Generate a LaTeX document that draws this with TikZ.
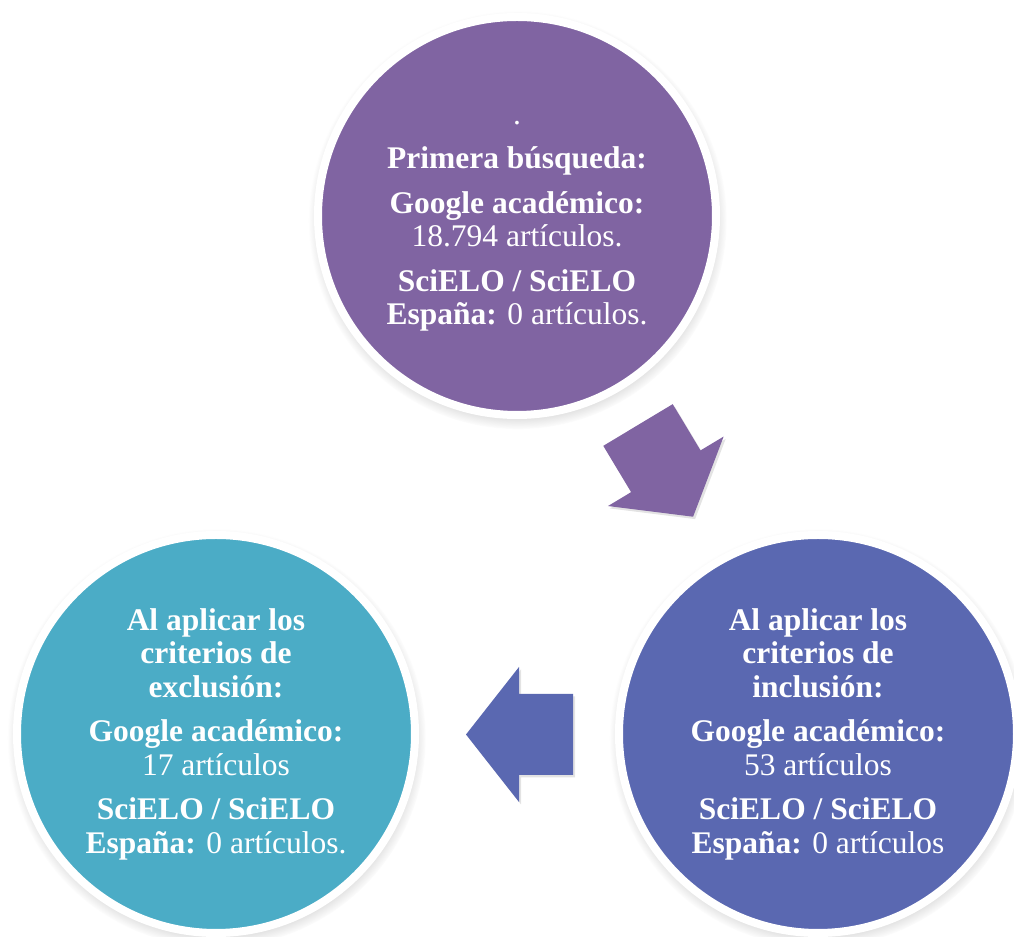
\documentclass[tikz,border=0pt]{standalone}
\usepackage{fontspec}
\setmainfont{Liberation Serif}
\usetikzlibrary{shadows,fadings}
\definecolor{morado}{HTML}{8064A2}
\definecolor{turquesa}{HTML}{4BACC6}
\definecolor{azul}{HTML}{5A68B1}
\begin{document}
\begin{tikzpicture}[x=0.5pt,y=0.5pt,
burbuja/.style={circle, draw=white, line width=4pt, minimum size=199pt, inner sep=0pt,
  align=center, text=white, font=\fontsize{15.75}{16.75}\selectfont,
  circular drop shadow={shadow scale=1.05, shadow xshift=0.3pt, shadow yshift=-2pt, opacity=0.6}},
flecha/.style={drop shadow={shadow xshift=1pt, shadow yshift=-1.2pt, opacity=0.22}}]

\useasboundingbox (0,0) rectangle (1014,937);

\node[burbuja, fill=morado] (busq) at (517,721) {\rule{0pt}{12pt}.\\[5.5pt]
\textbf{Primera búsqueda:}\\[5.5pt]
\textbf{Google académico:}\\ 18.794 artículos.\\[5.5pt]
\textbf{SciELO / SciELO}\\ \textbf{España:} 0 artículos.};

\node[burbuja, fill=turquesa] (excl) at (216,203) {\textbf{Al aplicar los}\\
\textbf{criterios de}\\ \textbf{exclusión:}\\[5.5pt]
\textbf{Google académico:}\\ 17 artículos\\[5.5pt]
\textbf{SciELO / SciELO}\\ \textbf{España:} 0 artículos.};

\node[burbuja, fill=azul] (incl) at (818,203) {\textbf{Al aplicar los}\\
\textbf{criterios de}\\ \textbf{inclusión:}\\[5.5pt]
\textbf{Google académico:}\\ 53 artículos\\[5.5pt]
\textbf{SciELO / SciELO}\\ \textbf{España:} 0 artículos};

\coordinate (f1) at (638,512);
\coordinate (f2) at (573,202.5);

\fill[morado, flecha, shift={(f1)}, rotate=-59]
(0,-40.5) -- (54,-40.5) -- (54,-67.5) -- (107,0) -- (54,67.5) -- (54,40.5) -- (0,40.5) -- cycle;

\fill[azul, flecha, shift={(f2)}, rotate=180]
(0,-40.5) -- (54,-40.5) -- (54,-67.5) -- (107,0) -- (54,67.5) -- (54,40.5) -- (0,40.5) -- cycle;

\end{tikzpicture}
\end{document}
